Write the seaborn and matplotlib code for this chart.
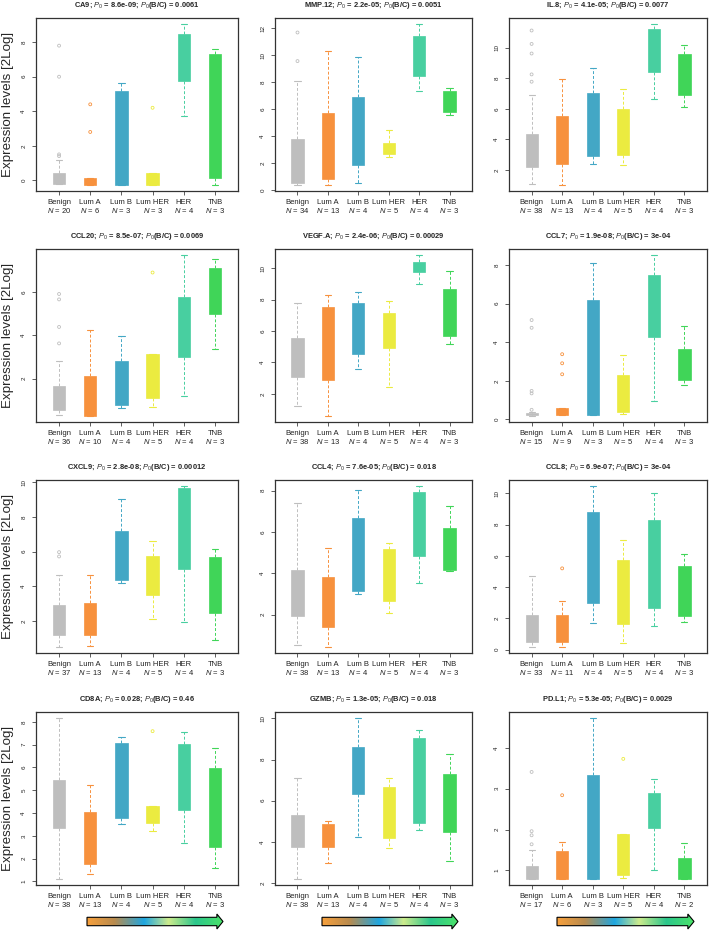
import numpy as np
import pandas as pd
import matplotlib.pyplot as plt
import seaborn as sns
from matplotlib.colors import LinearSegmentedColormap
from matplotlib.patches import Polygon

# groups and colours
groups = ["Benign", "Lum A", "Lum B", "Lum HER", "HER", "TNB"]
colors = ["#BEBEBE", "#F7913D", "#43A7C5", "#EBEB40", "#48CFA0", "#40D558"]
palette = dict(zip(groups, colors))

genes = ["CA9", "MMP.12", "IL.8", "CCL20", "VEGF.A", "CCL7",
         "CXCL9", "CCL4", "CCL8", "CD8A", "GZMB", "PD.L1"]
p0 = ["8.6e-09", "2.2e-05", "4.1e-05", "8.5e-07", "2.4e-06", "1.9e-08",
      "2.8e-08", "7.6e-05", "6.9e-07", "0.028", "1.3e-05", "5.3e-05"]
p0_bc = ["0.0061", "0.0051", "0.0077", "0.0069", "0.00029", "3e-04",
         "0.00012", "0.018", "3e-04", "0.46", "0.018", "0.0029"]

n_counts = [
    [20, 6, 3, 3, 4, 3],
    [34, 13, 4, 5, 4, 3],
    [38, 13, 4, 5, 4, 3],
    [36, 10, 4, 5, 4, 3],
    [38, 13, 4, 5, 4, 3],
    [15, 9, 3, 5, 4, 3],
    [37, 13, 4, 5, 4, 3],
    [38, 13, 4, 5, 4, 3],
    [33, 11, 4, 5, 4, 3],
    [38, 13, 4, 5, 4, 3],
    [38, 13, 4, 5, 4, 3],
    [17, 6, 3, 5, 4, 2],
]

# box summaries (lower whisker, q1, q3, upper whisker)
whisker_low = [
    [-0.2, -0.25, -0.25, -0.25, 3.73, -0.25],
    [0.42, 0.42, 0.57, 2.44, 7.34, 5.55],
    [1.1, 1.03, 2.37, 2.31, 6.66, 6.11],
    [0.34, 0.29, 0.65, 0.69, 1.18, 3.35],
    [1.26, 0.62, 3.6, 2.43, 8.98, 5.19],
    [0.2, 0.22, 0.22, 0.26, 0.95, 1.79],
    [0.51, 0.55, 4.17, 2.1, 1.94, 0.9],
    [0.56, 0.46, 3.02, 2.1, 3.54, 4.13],
    [0.19, 0.19, 1.73, 0.41, 1.48, 1.78],
    [1.12, 1.34, 3.51, 3.22, 2.69, 1.59],
    [2.21, 2.99, 4.25, 3.68, 4.58, 3.06],
    [0.8, 0.8, 0.8, 0.82, 1.01, 0.8],
]
box_low = [
    [-0.2, -0.25, -0.25, -0.25, 5.76, 0.13],
    [0.55, 0.82, 1.9, 2.7, 8.5, 5.82],
    [2.2, 2.37, 2.92, 2.99, 8.42, 6.92],
    [0.57, 0.29, 0.8, 1.08, 3.0, 4.97],
    [3.06, 2.89, 4.55, 4.94, 9.74, 5.7],
    [0.22, 0.22, 0.22, 0.38, 4.26, 2.02],
    [1.19, 1.19, 4.38, 3.51, 5.0, 2.45],
    [1.92, 1.4, 3.15, 2.65, 4.85, 4.15],
    [0.49, 0.47, 2.96, 1.63, 2.66, 2.12],
    [3.35, 1.74, 3.79, 3.57, 4.13, 2.5],
    [3.76, 3.73, 6.33, 4.2, 4.89, 4.5],
    [0.8, 0.8, 0.8, 0.88, 2.04, 0.8],
]
box_high = [
    [0.4, 0.13, 5.15, 0.4, 8.5, 7.3],
    [3.78, 5.72, 6.9, 3.53, 11.44, 7.39],
    [4.35, 5.52, 7.05, 6.0, 11.27, 9.63],
    [1.66, 2.11, 2.83, 3.12, 5.74, 7.11],
    [5.55, 7.51, 7.77, 7.15, 10.4, 8.66],
    [0.32, 0.6, 6.17, 2.31, 7.48, 3.66],
    [2.91, 3.03, 7.17, 5.74, 9.67, 5.7],
    [4.18, 3.8, 6.69, 5.19, 7.91, 6.21],
    [2.23, 2.21, 8.82, 5.74, 8.27, 5.33],
    [5.43, 4.03, 7.06, 4.31, 7.04, 5.96],
    [5.31, 4.86, 8.61, 6.65, 9.07, 7.31],
    [1.11, 1.47, 3.34, 1.88, 2.89, 1.3],
]
whisker_high = [
    [1.2, 0.15, 5.65, 0.4, 9.03, 7.6],
    [8.13, 10.3, 9.85, 4.48, 12.3, 7.6],
    [6.88, 7.93, 8.7, 7.27, 11.54, 10.22],
    [2.8, 4.23, 3.97, 3.12, 7.68, 7.52],
    [7.79, 8.26, 8.47, 7.91, 10.81, 9.83],
    [0.4, 0.6, 8.1, 3.33, 8.5, 4.86],
    [4.67, 4.62, 9.03, 6.59, 9.77, 6.17],
    [7.39, 5.2, 8.04, 5.48, 8.2, 7.26],
    [4.71, 3.08, 10.45, 7.02, 10.02, 6.15],
    [8.15, 5.24, 7.34, 4.31, 7.54, 6.85],
    [7.11, 5.02, 10.0, 7.08, 9.43, 8.25],
    [1.5, 1.7, 4.72, 1.88, 3.24, 1.66],
]
outliers = [
    [[1.4, 1.5, 6.0, 7.8], [2.8, 4.4], [], [4.2], [], []],
    [[9.58, 11.7], [], [], [], [], []],
    [[7.78, 8.26, 9.63, 10.26, 11.14], [], [], [], [], []],
    [[3.62, 4.38, 5.65, 5.9], [], [], [6.89], [], []],
    [[], [], [], [], [], []],
    [[0.5, 1.35, 1.48, 4.75, 5.15], [2.34, 2.91, 3.38], [], [], [], []],
    [[5.72, 5.97], [], [], [], [], []],
    [[], [], [], [], [], []],
    [[], [5.2], [], [], [], []],
    [[], [], [], [7.59], [], []],
    [[], [], [], [], [], []],
    [[1.64, 1.86, 1.96, 3.41], [2.84], [], [3.73], [], []],
]
yticks = [
    [0, 2, 4, 6, 8],
    [0, 2, 4, 6, 8, 10, 12],
    [2, 4, 6, 8, 10],
    [2, 4, 6],
    [2, 4, 6, 8, 10],
    [0, 2, 4, 6, 8],
    [2, 4, 6, 8, 10],
    [2, 4, 6, 8],
    [0, 2, 4, 6, 8, 10],
    [1, 2, 3, 4, 5, 6, 7, 8],
    [2, 4, 6, 8, 10],
    [1, 2, 3, 4],
]

sns.set_style("white")
plt.rcParams["font.family"] = ["Liberation Sans", "DejaVu Sans"]
plt.rcParams["mathtext.fontset"] = "custom"
plt.rcParams["mathtext.rm"] = "Liberation Sans"
plt.rcParams["mathtext.it"] = "Liberation Sans:italic"
plt.rcParams["mathtext.bf"] = "Liberation Sans:bold"

W, H = 709, 930
fig = plt.figure(figsize=(W / 100, H / 100), dpi=100)

col_left = [36, 275, 509]
col_width = [202, 197, 198]
row_top = [18, 249, 480, 712]
row_height = 173

for i, gene in enumerate(genes):
    r, c = divmod(i, 3)
    ax = fig.add_axes([col_left[c] / W, 1 - (row_top[r] + row_height) / H,
                       col_width[c] / W, row_height / H])

    rows = []
    for g, lo, q1, q3, hi in zip(groups, whisker_low[i], box_low[i], box_high[i], whisker_high[i]):
        for v in (lo, q1, (q1 + q3) / 2, q3, hi):
            rows.append({"group": g, "value": v})
    df = pd.DataFrame(rows)

    sns.boxplot(data=df, x="group", y="value", hue="group", order=groups,
                hue_order=groups, palette=palette, saturation=1, width=0.4,
                whis=(0, 100), legend=False, ax=ax)

    for cont, col in zip(ax.containers, colors):
        for b in cont.boxes:
            b.set_facecolor(col)
            b.set_edgecolor(col)
            b.set_linewidth(0.5)
        for w in cont.whiskers:
            w.set_color(col)
            w.set_linestyle((0, (3, 2)))
            w.set_linewidth(0.7)
        for cp in cont.caps:
            cp.set_color(col)
            cp.set_linewidth(0.8)
            m = np.mean(cp.get_xdata())
            cp.set_xdata([m - 0.1, m + 0.1])
        for md in cont.medians:
            md.set_visible(False)

    fl = pd.DataFrame([{"group": g, "value": v}
                       for g, vals in zip(groups, outliers[i]) for v in vals])
    if len(fl):
        n_before = len(ax.collections)
        sns.stripplot(data=fl, x="group", y="value", hue="group", order=groups,
                      hue_order=groups, palette=palette, jitter=False, size=2.1,
                      legend=False, ax=ax)
        for coll in ax.collections[n_before:]:
            fc = coll.get_facecolors()
            coll.set_edgecolors(fc)
            coll.set_facecolors("none")
            coll.set_linewidth(0.6)

    allv = whisker_low[i] + whisker_high[i] + sum(outliers[i], [])
    vmin, vmax = min(allv), max(allv)
    pad = 0.04 * (vmax - vmin)
    ax.set_ylim(vmin - pad, vmax + pad)
    ax.set_xlim(-0.74, 5.74)

    ax.set_yticks(yticks[i])
    ax.set_yticklabels([str(t) for t in yticks[i]], rotation=90, va="center", fontsize=4.5)
    ax.set_xticks(range(len(groups)))
    ax.set_xticklabels([f"{g}\n$N$ = {n}" for g, n in zip(groups, n_counts[i])],
                       fontsize=5.5, linespacing=1.05)
    ax.set_xlabel("")
    ax.set_ylabel("")
    ax.tick_params(axis="x", bottom=True, length=3, width=0.6, pad=2.5,
                   color="#444444", labelcolor="#222222")
    ax.tick_params(axis="y", left=True, length=3, width=0.6, pad=4,
                   color="#444444", labelcolor="#222222")
    for sp in ax.spines.values():
        sp.set_color("#333333")
        sp.set_linewidth(0.9)

    ax.set_title(f"{gene}; $P_0$ = {p0[i]}; $P_0$(B/C) = {p0_bc[i]}",
                 fontsize=5.4, fontweight="bold", pad=8)

    if c == 0:
        fig.text(8 / W, 1 - (row_top[r] + row_height / 2) / H, "Expression levels [2Log]",
                 rotation=90, fontsize=9.6, ha="center", va="center")

# gradient arrows under the bottom row
arrow_cmap = LinearSegmentedColormap.from_list(
    "arrow", [(0, "#F7A03C"), (0.2, "#B98B4E"), (0.42, "#1FA6E0"),
              (0.6, "#CDEB8C"), (0.8, "#2BC68C"), (1.0, "#4BE36A")])
for x0, x1 in [(87, 223), (322, 458), (557, 694)]:
    aax = fig.add_axes([x0 / W, 1 - 929 / H, (x1 - x0) / W, 15 / H])
    aax.set_xlim(0, 1)
    aax.set_ylim(0, 1)
    aax.axis("off")
    verts = [(0, 0.22), (0.955, 0.22), (0.955, 0.0), (1, 0.5),
             (0.955, 1.0), (0.955, 0.78), (0, 0.78)]
    poly = Polygon(verts, closed=True, facecolor="none", edgecolor="black",
                   lw=0.8, clip_on=False, zorder=3)
    aax.add_patch(poly)
    im = aax.imshow(np.linspace(0, 1, 256)[None, :], extent=[0, 1, 0, 1],
                    aspect="auto", cmap=arrow_cmap)
    im.set_clip_path(poly)

fig.savefig("out.png", dpi=100)
